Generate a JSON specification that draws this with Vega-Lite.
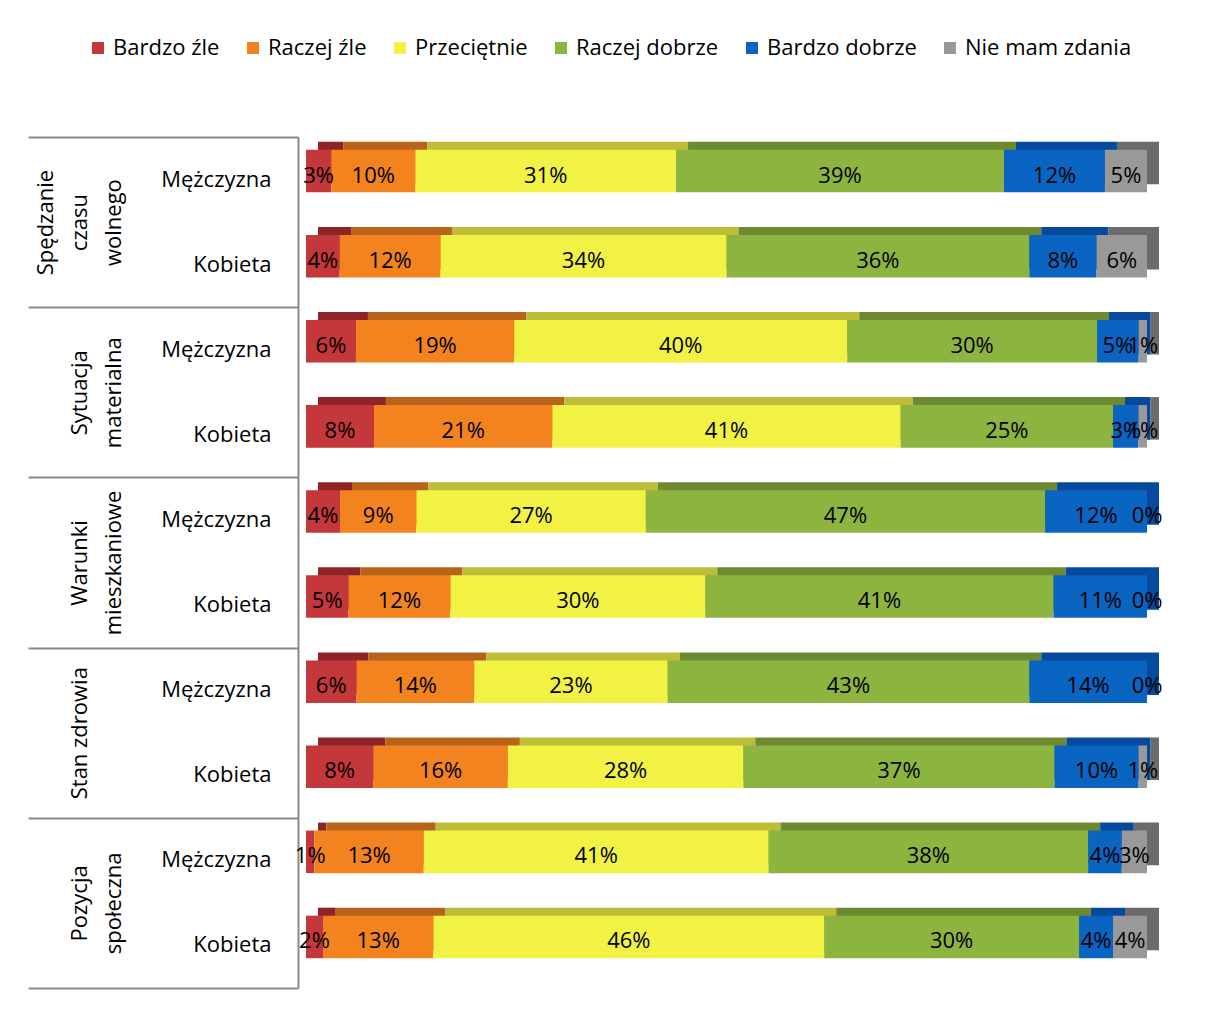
{
  "$schema": "https://vega.github.io/schema/vega-lite/v6.json",
  "padding": {"left": 27, "top": 37, "right": 5, "bottom": 5},
  "width": 841,
  "height": 851,
  "config": {"font": "Open Sans", "view": {"stroke": null}},
  "data": {"values": [
    {"group": "Spędzanie czasu wolnego", "row": "Spędzanie czasu wolnego|Mężczyzna", "cat": "Bardzo źle", "k": 1, "v": 0.03},
    {"group": "Spędzanie czasu wolnego", "row": "Spędzanie czasu wolnego|Mężczyzna", "cat": "Raczej źle", "k": 2, "v": 0.10},
    {"group": "Spędzanie czasu wolnego", "row": "Spędzanie czasu wolnego|Mężczyzna", "cat": "Przeciętnie", "k": 3, "v": 0.31},
    {"group": "Spędzanie czasu wolnego", "row": "Spędzanie czasu wolnego|Mężczyzna", "cat": "Raczej dobrze", "k": 4, "v": 0.39},
    {"group": "Spędzanie czasu wolnego", "row": "Spędzanie czasu wolnego|Mężczyzna", "cat": "Bardzo dobrze", "k": 5, "v": 0.12},
    {"group": "Spędzanie czasu wolnego", "row": "Spędzanie czasu wolnego|Mężczyzna", "cat": "Nie mam zdania", "k": 6, "v": 0.05},
    {"group": "Spędzanie czasu wolnego", "row": "Spędzanie czasu wolnego|Kobieta", "cat": "Bardzo źle", "k": 1, "v": 0.04},
    {"group": "Spędzanie czasu wolnego", "row": "Spędzanie czasu wolnego|Kobieta", "cat": "Raczej źle", "k": 2, "v": 0.12},
    {"group": "Spędzanie czasu wolnego", "row": "Spędzanie czasu wolnego|Kobieta", "cat": "Przeciętnie", "k": 3, "v": 0.34},
    {"group": "Spędzanie czasu wolnego", "row": "Spędzanie czasu wolnego|Kobieta", "cat": "Raczej dobrze", "k": 4, "v": 0.36},
    {"group": "Spędzanie czasu wolnego", "row": "Spędzanie czasu wolnego|Kobieta", "cat": "Bardzo dobrze", "k": 5, "v": 0.08},
    {"group": "Spędzanie czasu wolnego", "row": "Spędzanie czasu wolnego|Kobieta", "cat": "Nie mam zdania", "k": 6, "v": 0.06},
    {"group": "Sytuacja materialna", "row": "Sytuacja materialna|Mężczyzna", "cat": "Bardzo źle", "k": 1, "v": 0.06},
    {"group": "Sytuacja materialna", "row": "Sytuacja materialna|Mężczyzna", "cat": "Raczej źle", "k": 2, "v": 0.19},
    {"group": "Sytuacja materialna", "row": "Sytuacja materialna|Mężczyzna", "cat": "Przeciętnie", "k": 3, "v": 0.40},
    {"group": "Sytuacja materialna", "row": "Sytuacja materialna|Mężczyzna", "cat": "Raczej dobrze", "k": 4, "v": 0.30},
    {"group": "Sytuacja materialna", "row": "Sytuacja materialna|Mężczyzna", "cat": "Bardzo dobrze", "k": 5, "v": 0.05},
    {"group": "Sytuacja materialna", "row": "Sytuacja materialna|Mężczyzna", "cat": "Nie mam zdania", "k": 6, "v": 0.01},
    {"group": "Sytuacja materialna", "row": "Sytuacja materialna|Kobieta", "cat": "Bardzo źle", "k": 1, "v": 0.08},
    {"group": "Sytuacja materialna", "row": "Sytuacja materialna|Kobieta", "cat": "Raczej źle", "k": 2, "v": 0.21},
    {"group": "Sytuacja materialna", "row": "Sytuacja materialna|Kobieta", "cat": "Przeciętnie", "k": 3, "v": 0.41},
    {"group": "Sytuacja materialna", "row": "Sytuacja materialna|Kobieta", "cat": "Raczej dobrze", "k": 4, "v": 0.25},
    {"group": "Sytuacja materialna", "row": "Sytuacja materialna|Kobieta", "cat": "Bardzo dobrze", "k": 5, "v": 0.03},
    {"group": "Sytuacja materialna", "row": "Sytuacja materialna|Kobieta", "cat": "Nie mam zdania", "k": 6, "v": 0.01},
    {"group": "Warunki mieszkaniowe", "row": "Warunki mieszkaniowe|Mężczyzna", "cat": "Bardzo źle", "k": 1, "v": 0.04},
    {"group": "Warunki mieszkaniowe", "row": "Warunki mieszkaniowe|Mężczyzna", "cat": "Raczej źle", "k": 2, "v": 0.09},
    {"group": "Warunki mieszkaniowe", "row": "Warunki mieszkaniowe|Mężczyzna", "cat": "Przeciętnie", "k": 3, "v": 0.27},
    {"group": "Warunki mieszkaniowe", "row": "Warunki mieszkaniowe|Mężczyzna", "cat": "Raczej dobrze", "k": 4, "v": 0.47},
    {"group": "Warunki mieszkaniowe", "row": "Warunki mieszkaniowe|Mężczyzna", "cat": "Bardzo dobrze", "k": 5, "v": 0.12},
    {"group": "Warunki mieszkaniowe", "row": "Warunki mieszkaniowe|Mężczyzna", "cat": "Nie mam zdania", "k": 6, "v": 0.0},
    {"group": "Warunki mieszkaniowe", "row": "Warunki mieszkaniowe|Kobieta", "cat": "Bardzo źle", "k": 1, "v": 0.05},
    {"group": "Warunki mieszkaniowe", "row": "Warunki mieszkaniowe|Kobieta", "cat": "Raczej źle", "k": 2, "v": 0.12},
    {"group": "Warunki mieszkaniowe", "row": "Warunki mieszkaniowe|Kobieta", "cat": "Przeciętnie", "k": 3, "v": 0.30},
    {"group": "Warunki mieszkaniowe", "row": "Warunki mieszkaniowe|Kobieta", "cat": "Raczej dobrze", "k": 4, "v": 0.41},
    {"group": "Warunki mieszkaniowe", "row": "Warunki mieszkaniowe|Kobieta", "cat": "Bardzo dobrze", "k": 5, "v": 0.11},
    {"group": "Warunki mieszkaniowe", "row": "Warunki mieszkaniowe|Kobieta", "cat": "Nie mam zdania", "k": 6, "v": 0.0},
    {"group": "Stan zdrowia", "row": "Stan zdrowia|Mężczyzna", "cat": "Bardzo źle", "k": 1, "v": 0.06},
    {"group": "Stan zdrowia", "row": "Stan zdrowia|Mężczyzna", "cat": "Raczej źle", "k": 2, "v": 0.14},
    {"group": "Stan zdrowia", "row": "Stan zdrowia|Mężczyzna", "cat": "Przeciętnie", "k": 3, "v": 0.23},
    {"group": "Stan zdrowia", "row": "Stan zdrowia|Mężczyzna", "cat": "Raczej dobrze", "k": 4, "v": 0.43},
    {"group": "Stan zdrowia", "row": "Stan zdrowia|Mężczyzna", "cat": "Bardzo dobrze", "k": 5, "v": 0.14},
    {"group": "Stan zdrowia", "row": "Stan zdrowia|Mężczyzna", "cat": "Nie mam zdania", "k": 6, "v": 0.0},
    {"group": "Stan zdrowia", "row": "Stan zdrowia|Kobieta", "cat": "Bardzo źle", "k": 1, "v": 0.08},
    {"group": "Stan zdrowia", "row": "Stan zdrowia|Kobieta", "cat": "Raczej źle", "k": 2, "v": 0.16},
    {"group": "Stan zdrowia", "row": "Stan zdrowia|Kobieta", "cat": "Przeciętnie", "k": 3, "v": 0.28},
    {"group": "Stan zdrowia", "row": "Stan zdrowia|Kobieta", "cat": "Raczej dobrze", "k": 4, "v": 0.37},
    {"group": "Stan zdrowia", "row": "Stan zdrowia|Kobieta", "cat": "Bardzo dobrze", "k": 5, "v": 0.10},
    {"group": "Stan zdrowia", "row": "Stan zdrowia|Kobieta", "cat": "Nie mam zdania", "k": 6, "v": 0.01},
    {"group": "Pozycja społeczna", "row": "Pozycja społeczna|Mężczyzna", "cat": "Bardzo źle", "k": 1, "v": 0.01},
    {"group": "Pozycja społeczna", "row": "Pozycja społeczna|Mężczyzna", "cat": "Raczej źle", "k": 2, "v": 0.13},
    {"group": "Pozycja społeczna", "row": "Pozycja społeczna|Mężczyzna", "cat": "Przeciętnie", "k": 3, "v": 0.41},
    {"group": "Pozycja społeczna", "row": "Pozycja społeczna|Mężczyzna", "cat": "Raczej dobrze", "k": 4, "v": 0.38},
    {"group": "Pozycja społeczna", "row": "Pozycja społeczna|Mężczyzna", "cat": "Bardzo dobrze", "k": 5, "v": 0.04},
    {"group": "Pozycja społeczna", "row": "Pozycja społeczna|Mężczyzna", "cat": "Nie mam zdania", "k": 6, "v": 0.03},
    {"group": "Pozycja społeczna", "row": "Pozycja społeczna|Kobieta", "cat": "Bardzo źle", "k": 1, "v": 0.02},
    {"group": "Pozycja społeczna", "row": "Pozycja społeczna|Kobieta", "cat": "Raczej źle", "k": 2, "v": 0.13},
    {"group": "Pozycja społeczna", "row": "Pozycja społeczna|Kobieta", "cat": "Przeciętnie", "k": 3, "v": 0.46},
    {"group": "Pozycja społeczna", "row": "Pozycja społeczna|Kobieta", "cat": "Raczej dobrze", "k": 4, "v": 0.30},
    {"group": "Pozycja społeczna", "row": "Pozycja społeczna|Kobieta", "cat": "Bardzo dobrze", "k": 5, "v": 0.04},
    {"group": "Pozycja społeczna", "row": "Pozycja społeczna|Kobieta", "cat": "Nie mam zdania", "k": 6, "v": 0.04}
  ]},
  "layer": [
    {
      "layer": [
        {
          "mark": {"type": "bar", "xOffset": 12, "yOffset": -16.5},
          "encoding": {
            "y": {"field": "row", "type": "nominal", "sort": null,
              "scale": {"paddingInner": 0.5, "paddingOuter": 0.25},
              "axis": {"title": null, "orient": "left", "offset": 8, "domain": true, "domainColor": "#8a8a8a", "domainWidth": 2,
                "ticks": false, "labelExpr": "split(datum.value, '|')[1]", "labelFontSize": 22, "labelColor": "#000000",
                "labelPadding": 27, "labelAlign": "right", "labelBaseline": "middle"}},
            "x": {"field": "v", "type": "quantitative", "stack": "normalize", "axis": null, "scale": {"domain": [0, 1]}},
            "fill": {"field": "k", "type": "ordinal", "legend": null,
              "scale": {"domain": [1, 2, 3, 4, 5, 6],
                "range": ["#8E2426", "#B8631A", "#BDBD38", "#6E8A30", "#054A9C", "#6B6B6B"]}},
            "order": {"field": "k", "type": "quantitative"}
          }
        },
        {
          "mark": {"type": "bar", "yOffset": -8.5},
          "encoding": {
            "y": {"field": "row", "type": "nominal", "sort": null},
            "x": {"field": "v", "type": "quantitative", "stack": "normalize"},
            "color": {"field": "cat", "type": "nominal",
              "scale": {"domain": ["Bardzo źle", "Raczej źle", "Przeciętnie", "Raczej dobrze", "Bardzo dobrze", "Nie mam zdania"],
                "range": ["#C4373A", "#F2831F", "#F2F244", "#8CB43F", "#0A64C2", "#999999"]},
              "legend": {"orient": "none", "legendX": -219, "legendY": -100, "direction": "horizontal", "title": null,
                "symbolType": "square", "symbolSize": 144, "symbolStrokeWidth": 0, "labelFontSize": 22, "labelColor": "#000000",
                "labelOffset": 4, "columnPadding": 22, "labelLimit": 400}},
            "order": {"field": "k", "type": "quantitative"}
          }
        },
        {
          "mark": {"type": "text", "fontSize": 22, "dy": -4, "color": "#000000", "baseline": "middle"},
          "encoding": {
            "y": {"field": "row", "type": "nominal", "sort": null},
            "x": {"field": "v", "type": "quantitative", "stack": "normalize", "bandPosition": 0.5},
            "detail": {"field": "cat", "type": "nominal"},
            "order": {"field": "k", "type": "quantitative"},
            "text": {"field": "v", "type": "quantitative", "format": ".0%"}
          }
        }
      ]
    },
    {
      "mark": {"type": "rule", "strokeOpacity": 0},
      "encoding": {
        "y": {"field": "group", "type": "nominal", "sort": null, "scale": {"paddingInner": 0, "paddingOuter": 0},
          "axis": {"title": null, "orient": "left", "offset": 8, "domain": false, "ticks": true, "tickBand": "extent", "tickExtra": true,
            "tickSize": 270, "tickColor": "#8a8a8a", "tickWidth": 2, "labelAngle": 270, "labelAlign": "center", "labelBaseline": "bottom",
            "labelPadding": -29, "labelFontSize": 22, "labelColor": "#000000", "labelLineHeight": 34,
            "labelExpr": "!isString(datum.value) ? '' : datum.value == 'Stan zdrowia' ? ['', '', datum.value] : length(split(datum.value, ' ')) == 2 ? ['', split(datum.value, ' ')[0], split(datum.value, ' ')[1]] : split(datum.value, ' ')"}}
      }
    }
  ],
  "resolve": {"scale": {"y": "independent"}}
}
